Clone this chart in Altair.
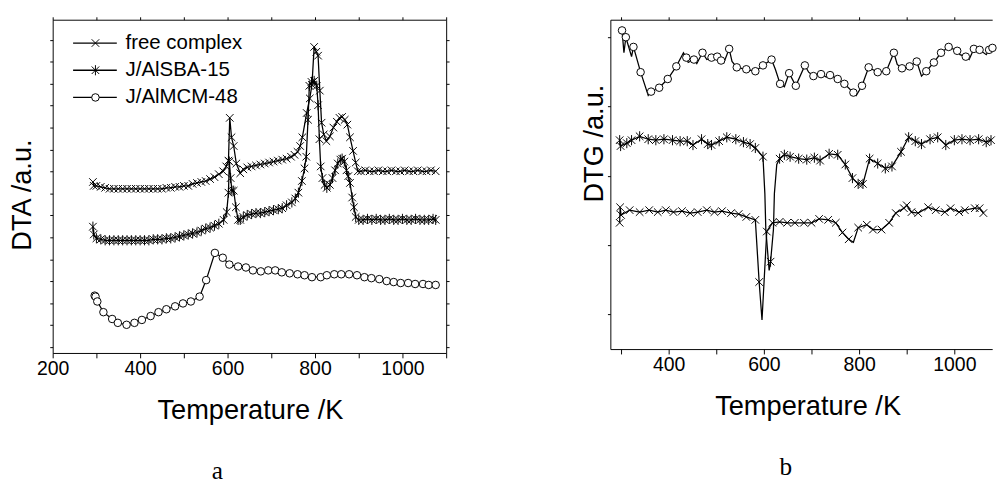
import altair as alt
import pandas as pd

SERIES = ["free complex", "J/AlSBA-15", "J/AlMCM-48"]

# ---------------- panel a : DTA (a.u.) ----------------
dta_free_T = [292, 294, 300, 310, 320, 330, 340, 350, 360, 370, 380, 390, 400, 410, 420, 430, 440, 450, 460, 470,
              480, 490, 500, 510, 520, 530, 540, 550, 560, 570, 580, 590, 597, 602, 605, 609, 614, 620, 629, 636,
              645, 655, 665, 675, 685, 695, 705, 715, 725, 735, 745, 753, 760, 766, 771, 781, 788, 793, 798, 803,
              807, 811, 815, 820, 826, 834, 842, 850, 856, 862, 868, 874, 880, 887, 893, 898, 905, 915, 925, 935,
              945, 955, 965, 975, 985, 995, 1005, 1015, 1025, 1035, 1045, 1055, 1065, 1076]
dta_free_v = [176, 172, 172, 171, 170, 169, 169, 169, 169, 169, 169, 169, 169, 169, 169, 169, 169, 169, 170, 170,
              171, 171, 172, 172, 174, 175, 176, 177, 179, 181, 184, 187, 192, 198, 242, 222, 213, 195, 185, 189,
              191, 192, 193, 194, 195, 196, 197, 198, 199, 200, 202, 204, 207, 213, 222, 247, 262, 276, 315, 310,
              306, 270, 237, 225, 218, 223, 232, 238, 242, 243, 240, 235, 222, 208, 196, 187, 187, 188, 187, 187,
              188, 187, 187, 188, 187, 187, 188, 187, 187, 188, 187, 187, 188, 187]

dta_sba_T = [292, 294, 300, 310, 320, 330, 340, 350, 360, 370, 380, 390, 400, 410, 420, 430, 440, 450, 460, 470,
             480, 490, 500, 510, 520, 530, 540, 550, 560, 570, 580, 591, 598, 602, 604, 607, 610, 614, 619, 624,
             629, 636, 645, 655, 665, 675, 685, 695, 705, 716, 725, 735, 747, 755, 762, 770, 776, 780, 784, 787,
             792, 798, 804, 807, 810, 813, 817, 822, 827, 834, 840, 846, 852, 858, 862, 867, 872, 876, 880, 885,
             889, 893, 900, 910, 920, 930, 940, 950, 960, 970, 980, 990, 1000, 1010, 1020, 1030, 1040, 1050, 1060,
             1070, 1076]
dta_sba_v = [130, 122, 118, 117, 116, 116, 116, 116, 116, 116, 116, 116, 116, 116, 116, 117, 117, 117, 118, 118,
             119, 120, 121, 122, 123, 124, 126, 128, 129, 131, 133, 137, 145, 165, 197, 180, 167, 167, 150, 137,
             137, 140, 142, 143, 144, 144, 145, 146, 147, 148, 149, 152, 155, 159, 165, 177, 190, 202, 240, 275,
             279, 280, 275, 255, 220, 192, 180, 173, 170, 173, 180, 188, 195, 199, 200, 197, 188, 182, 175, 160,
             150, 140, 137, 137, 138, 137, 138, 137, 137, 138, 137, 137, 138, 137, 137, 138, 137, 137, 137,
             138, 137]

dta_mcm_T = [296, 298, 302, 316, 336, 349, 369, 387, 404, 424, 442, 460, 480, 498, 516, 536, 551, 571, 589, 604,
             624, 642, 658, 676, 693, 709, 724, 742, 760, 776, 793, 813, 827, 844, 860, 878, 896, 913, 929, 947,
             964, 980, 996, 1013, 1029, 1047, 1060, 1076]
dta_mcm_v = [59, 58, 53, 42, 35, 31, 29, 31, 34, 38, 42, 45, 48, 51, 53, 58, 75, 103, 98, 91,
             89, 88, 85, 84, 85, 85, 83, 82, 81, 80, 78, 78, 80, 81, 81, 81, 80, 78, 77, 76,
             74, 73, 72, 72, 71, 71, 70, 70]

# ---------------- panel b : DTG (a.u.) ----------------
dtg_mcm_T = [302, 306, 310, 322, 326, 341, 357, 363, 380, 398, 416, 431, 437, 441, 453, 459, 471, 480, 490, 502,
             510, 516, 527, 533, 543, 563, 582, 598, 616, 624, 634, 643, 653, 667, 686, 694, 704, 720, 731, 739,
             755, 769, 788, 794, 806, 820, 839, 857, 873, 880, 890, 906, 921, 931, 941, 957, 972, 988, 1006, 1012,
             1024, 1031, 1041, 1053, 1067, 1073, 1080]
dtg_mcm_v = [328, 305, 321, 301, 311, 285, 261, 265, 269, 278, 291, 305, 300, 295, 298, 294, 305, 298, 300, 301,
             297, 295, 309, 296, 290, 288, 286, 292, 298, 288, 273, 270, 284, 271, 292, 285, 281, 283, 280, 282,
             278, 273, 264, 261, 271, 290, 285, 286, 305, 293, 289, 291, 296, 281, 286, 295, 305, 311, 307, 303,
             301, 298, 309, 308, 303, 308, 310]
dtg_mcm_no_marker = [306, 322, 357, 431, 441, 459, 480, 516, 533, 624, 643, 694, 731, 794, 880, 931, 1012, 1031, 1067]

dtg_sba_T = [297, 299, 312, 322, 339, 357, 373, 390, 408, 424, 439, 451, 469, 482, 490, 506, 522, 541, 557, 571,
             582, 598, 602, 604, 611, 614, 620, 622, 627, 633, 643, 655, 673, 690, 706, 718, 737, 755, 771, 786,
             798, 808, 822, 839, 855, 869, 888, 904, 918, 931, 949, 965, 982, 1000, 1016, 1033, 1051, 1067, 1077]
dtg_sba_v = [215, 209, 212, 215, 219, 216, 215, 216, 215, 214, 214, 210, 216, 211, 210, 214, 218, 216, 213, 211,
             207, 198, 160, 123, 81, 90, 123, 160, 190, 196, 200, 198, 196, 195, 197, 194, 201, 200, 190, 176,
             170, 170, 196, 191, 186, 188, 203, 218, 214, 211, 216, 218, 210, 215, 216, 215, 216, 213, 215]
dtg_sba_no_marker = [602, 604, 611, 620, 622, 627]

dtg_free_T = [297, 298, 300, 318, 339, 359, 377, 394, 410, 428, 445, 461, 480, 496, 512, 531, 547, 563, 582, 590,
              596, 606, 618, 633, 649, 665, 684, 700, 716, 735, 751, 765, 778, 788, 798, 816, 829, 847, 863, 877,
              894, 900, 910, 924, 945, 961, 980, 992, 1010, 1022, 1043, 1053, 1061]
dtg_free_v = [130, 146, 138, 143, 141, 143, 141, 143, 141, 142, 140, 141, 143, 141, 142, 140, 139, 136, 133, 69,
              30, 121, 130, 131, 130, 130, 130, 130, 134, 133, 130, 120, 113, 110, 125, 128, 123, 123, 130, 140,
              145, 148, 141, 140, 146, 143, 141, 145, 141, 143, 145, 145, 140]
dtg_free_no_marker = [596, 788]

# axis tick values
a_xticks = [200, 300, 400, 500, 600, 700, 800, 900, 1000, 1100]
b_xticks = [300, 400, 500, 600, 700, 800, 900, 1000]
a_yticks = [6 + 22.6 * k for k in range(15)]
b_yticks = [36 + 71.25 * k for k in range(5)]

FONT = "Liberation Sans"
MARK_PATHS = ["M-1,-1L1,1M-1,1L1,-1", "M-1,-1L1,1M-1,1L1,-1M0,-1.35L0,1.35", "circle"]


def build(name, T, v, no_marker=()):
    return pd.DataFrame({"T": T, "v": v, "series": name, "idx": list(range(len(T))),
                         "mk": [0 if t in no_marker else 1 for t in T]})


df_a = pd.concat([build(SERIES[0], dta_free_T, dta_free_v),
                  build(SERIES[1], dta_sba_T, dta_sba_v),
                  build(SERIES[2], dta_mcm_T, dta_mcm_v)], ignore_index=True)
df_b = pd.concat([build(SERIES[0], dtg_free_T, dtg_free_v, dtg_free_no_marker),
                  build(SERIES[1], dtg_sba_T, dtg_sba_v, dtg_sba_no_marker),
                  build(SERIES[2], dtg_mcm_T, dtg_mcm_v, dtg_mcm_no_marker)], ignore_index=True)
df_leg = pd.DataFrame({"series": SERIES})

LABEL_EXPR = "datum.value % 200 == 0 ? datum.label : ''"
SHAPE_SCALE = alt.Scale(domain=SERIES, range=MARK_PATHS)


def panel(df, xdom, ydom, w, h, xticks, yticks, ytitle, ytx, yty, xtx, tag, tag_dx, right_axis, legend):
    xs = alt.Scale(domain=xdom, nice=False, zero=False)
    ys = alt.Scale(domain=ydom, nice=False, zero=False)
    x_bottom = alt.X("T:Q", scale=xs, axis=alt.Axis(
        orient="bottom", values=xticks, format="d", labelExpr=LABEL_EXPR, tickSize=5, tickWidth=1,
        domainWidth=1, labelFont=FONT, labelFontSize=20, labelBaseline="alphabetic", labelPadding=17,
        labelFlush=False, labelOverlap=False, title="Temperature /K", titleFont=FONT, titleFontSize=28,
        titleFontWeight="normal", titleBaseline="alphabetic", titleY=67, titleX=xtx))
    x_top = alt.X("T:Q", scale=xs, axis=alt.Axis(
        orient="top", values=xticks, labels=False, tickSize=3, tickWidth=1, domainWidth=1, title=None))
    y_left = alt.Y("v:Q", scale=ys, axis=alt.Axis(
        orient="left", values=yticks, labels=False, tickSize=3, tickWidth=1, domainWidth=1,
        title=ytitle, titleFont=FONT, titleFontSize=28, titleFontWeight="normal",
        titleBaseline="alphabetic", titleAlign="center", titleX=ytx, titleY=yty))
    if right_axis:
        y_right = alt.Y("v:Q", scale=ys, axis=alt.Axis(
            orient="right", values=yticks, labels=False, tickSize=3, tickWidth=1, domainWidth=1, title=None))
    else:
        y_right = alt.Y("v:Q", scale=ys, axis=None)

    base = alt.Chart(df)
    line = base.mark_line(color="black", strokeWidth=1.3).encode(
        x=x_bottom, y=y_left, detail="series:N", order="idx:Q")
    pts = base.transform_filter("datum.mk == 1").mark_point(
        fill="white", stroke="black", strokeWidth=1, opacity=1, size=60).encode(
        x=x_top, y=y_right, shape=alt.Shape("series:N", scale=SHAPE_SCALE, legend=None))
    layers = [line, pts]
    if legend:
        # key in the upper left corner: a short line, the series marker, the series name
        ly = alt.Y("series:N", scale=alt.Scale(type="point", domain=SERIES, range=[24, 80], padding=0),
                   axis=None)
        lb = alt.Chart(df_leg)
        layers += [
            lb.mark_rule(color="black", strokeWidth=1.3).encode(x=alt.value(21), x2=alt.value(66), y=ly),
            lb.mark_point(fill="white", stroke="black", strokeWidth=1, opacity=1, size=60).encode(
                x=alt.value(44), y=ly, shape=alt.Shape("series:N", scale=SHAPE_SCALE, legend=None)),
            lb.mark_text(align="left", baseline="middle", font=FONT, fontSize=21, color="black").encode(
                x=alt.value(75), y=ly, text="series:N"),
        ]
    return alt.layer(*layers).resolve_scale(y="independent").resolve_axis(
        x="independent", y="independent").properties(
        width=w, height=h,
        title=alt.TitleParams(text=tag, orient="bottom", anchor="middle", frame="group",
                              font="Liberation Serif", fontSize=26, fontWeight="normal",
                              color="black", dx=tag_dx, offset=36))


pa = panel(df_a, [200, 1100], [0, 343], 405, 343, a_xticks, a_yticks, "DTA /a.u.", -23, 180, 203,
           "a", -33, True, True)
pb = panel(df_b, [277.5, 1079.5], [0, 339], 393, 339, b_xticks, b_yticks, "DTG /a.u.", -8, 127, 203,
           "b", -16, False, False)

chart = alt.hconcat(pa, pb, spacing=169, bounds="flush").properties(
    padding={"left": 1, "top": 1, "right": 0, "bottom": 0},
).configure_view(stroke=None).configure_axis(
    grid=False, domainColor="black", tickColor="black", labelColor="black", titleColor="black")

chart.save("out.html", embed_options={"renderer": "svg", "actions": False})
